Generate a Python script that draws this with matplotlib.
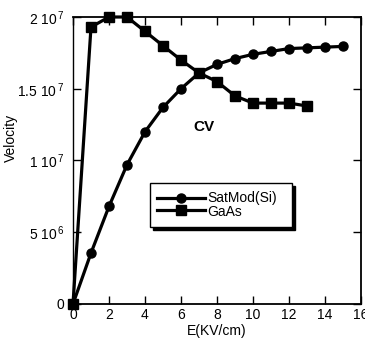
import numpy as np
import matplotlib
matplotlib.use('Agg')
import matplotlib.pyplot as plt
from matplotlib.patches import Rectangle

plt.rcParams['font.family'] = ['Liberation Sans', 'DejaVu Sans']
plt.rcParams['mathtext.default'] = 'regular'

# data
e_si = [0, 1, 2, 3, 4, 5, 6, 7, 8, 9, 10, 11, 12, 13, 14, 15]
v_si = [0, 3.55e6, 6.8e6, 9.7e6, 1.2e7, 1.37e7, 1.5e7, 1.61e7, 1.67e7,
        1.71e7, 1.74e7, 1.76e7, 1.78e7, 1.785e7, 1.79e7, 1.795e7]

e_gaas = [0, 1, 2, 3, 4, 5, 6, 7, 8, 9, 10, 11, 12, 13]
v_gaas = [0, 1.93e7, 2.0e7, 2.0e7, 1.9e7, 1.8e7, 1.7e7, 1.61e7, 1.55e7,
          1.45e7, 1.4e7, 1.4e7, 1.4e7, 1.38e7]

xticks = [0, 2, 4, 6, 8, 10, 12, 14, 16]
yticks = [0, 5e6, 1e7, 1.5e7, 2e7]
ylabels = ['0', '5 10$^{\\,6}$', '1 10$^{\\,7}$', '1.5 10$^{\\,7}$', '2 10$^{\\,7}$']

fig = plt.figure(figsize=(3.65, 3.47), dpi=100)
ax = fig.add_axes([0.2, 0.124, 0.789, 0.827])

ax.plot(e_si, v_si, color='black', lw=2.3, marker='o', ms=6.5, zorder=3,
        clip_on=False)
ax.plot(e_gaas, v_gaas, color='black', lw=2.3, marker='s', ms=6.5, zorder=3,
        clip_on=False)

ax.set_xlim(0, 16)
ax.set_ylim(0, 2e7)
ax.set_xticks(xticks)
ax.set_yticks(yticks)
ax.set_yticklabels(ylabels)
ax.tick_params(direction='in', length=6, width=1, labelsize=10,
               top=True, right=True)
ax.tick_params(axis='x', pad=3)
ax.tick_params(axis='y', pad=6)
for sp in ax.spines.values():
    sp.set_linewidth(1.3)
ax.spines['left'].set_linewidth(1.0)

ax.set_xlabel('E(KV/cm)', fontsize=10, labelpad=1)
ax.set_ylabel('Velocity', fontsize=10, labelpad=3)
ax.yaxis.set_label_coords(-0.19, 0.58)

ax.text(7.3, 1.23e7, 'CV', fontsize=11, fontweight='bold',
        ha='center', va='center')

# legend box with shadow
tr = ax.transAxes
ax.add_patch(Rectangle((0.277, 0.258), 0.493, 0.154, transform=tr,
                       facecolor='black', edgecolor='black', zorder=4))
ax.add_patch(Rectangle((0.267, 0.268), 0.493, 0.154, transform=tr,
                       facecolor='white', edgecolor='black', lw=1, zorder=5))
ax.plot([0.292, 0.458], [0.369, 0.369], transform=tr, color='black',
        lw=2.3, zorder=6)
ax.plot([0.375], [0.369], transform=tr, color='black', marker='o', ms=6.5,
        zorder=6)
ax.plot([0.292, 0.458], [0.328, 0.328], transform=tr, color='black',
        lw=2.3, zorder=6)
ax.plot([0.375], [0.328], transform=tr, color='black', marker='s', ms=6.5,
        zorder=6)
ax.text(0.466, 0.369, 'SatMod(Si)', transform=tr, fontsize=10,
        va='center', ha='left', zorder=6)
ax.text(0.466, 0.322, 'GaAs', transform=tr, fontsize=10,
        va='center', ha='left', zorder=6)

fig.savefig('out.png', dpi=100)
